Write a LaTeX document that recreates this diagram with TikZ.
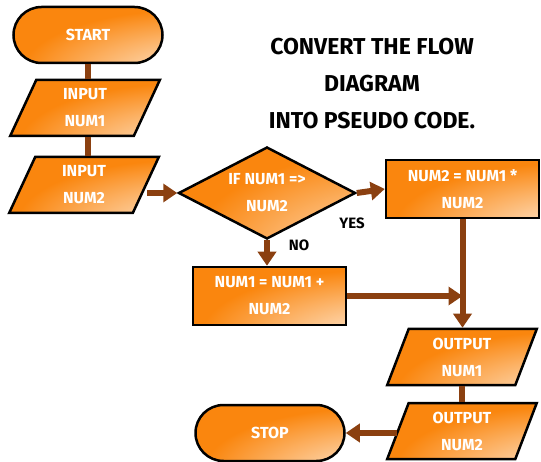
\documentclass[tikz,border=0pt]{standalone}
\usepackage{fontspec}
\setmainfont{Fira Sans}
\usetikzlibrary{shapes.geometric,arrows.meta}
\definecolor{orng}{RGB}{250,134,14}
\definecolor{brn}{RGB}{139,64,16}
\pgfdeclareradialshading{corner}{\pgfpoint{50bp}{-50bp}}{color(0bp)=(white); color(14bp)=(white!85!orng); color(55bp)=(orng); color(160bp)=(orng)}
\tikzset{
 box/.style={draw=black, line width=2.5pt, shade, shading=corner, text=white,
   font=\fontsize{16}{27}\selectfont\bfseries, align=center, inner sep=0pt},
 term/.style={box, rectangle, rounded corners=28pt, minimum width=149pt, minimum height=56pt},
 proc/.style={box, rectangle, minimum width=153pt, minimum height=58pt},
 io/.style={box, trapezium, trapezium left angle=73, trapezium right angle=107,
   trapezium stretches=true, minimum width=150pt, minimum height=56pt},
 decide/.style={box, diamond, aspect=2, minimum width=177pt, minimum height=92pt},
 link/.style={draw=brn, line width=6pt},
 arr/.style={link, -{Triangle[length=14pt,width=18pt]}},
 lbl/.style={font=\fontsize{15}{15}\selectfont\bfseries, text=black},
 title/.style={font=\fontsize{23}{37}\selectfont\bfseries, align=center, text=black}
}
\begin{document}
\begin{tikzpicture}[x=1pt,y=-1pt]
\useasboundingbox (0,0) rectangle (541,462);
\node[term] (start) at (88,35) {START};
\node[io] (in1) at (85,108) {INPUT\\NUM1};
\node[io] (in2) at (84,185) {INPUT\\NUM2};
\node[decide] (dec) at (267,193) {IF NUM1 =>\\NUM2};
\node[proc] (yes) at (462.5,189) {NUM2 = NUM1 *\\NUM2};
\node[proc] (no) at (269.5,296) {NUM1 = NUM1 +\\NUM2};
\node[io] (out1) at (462,357) {OUTPUT\\NUM1};
\node[io] (out2) at (462,431) {OUTPUT\\NUM2};
\node[term] (stop) at (270,433) {STOP};
\node[title] (ttl) at (372,84) {CONVERT THE FLOW\\DIAGRAM\\INTO PSEUDO CODE.};
\node[lbl] (lyes) at (352,223) {YES};
\node[lbl] (lno) at (299,245) {NO};
\coordinate (j) at (yes.south |- no.east);
\draw[link] (start.south) -- (start.south |- in1.north);
\draw[link] (in1.south -| start.south) -- (in2.north -| start.south);
\draw[arr] (in2.east |- dec.west) -- (dec.west);
\draw[arr] (dec.east) -- (yes.west);
\draw[arr] (dec.south) -- (dec.south |- no.north);
\draw[arr] (yes.south) -- (yes.south |- out1.north);
\draw[arr] (no.east) -- (j);
\draw[link] (out1.south) -- (out2.north);
\draw[arr] (out2.west |- stop.east) -- (stop.east);
\end{tikzpicture}
\end{document}
